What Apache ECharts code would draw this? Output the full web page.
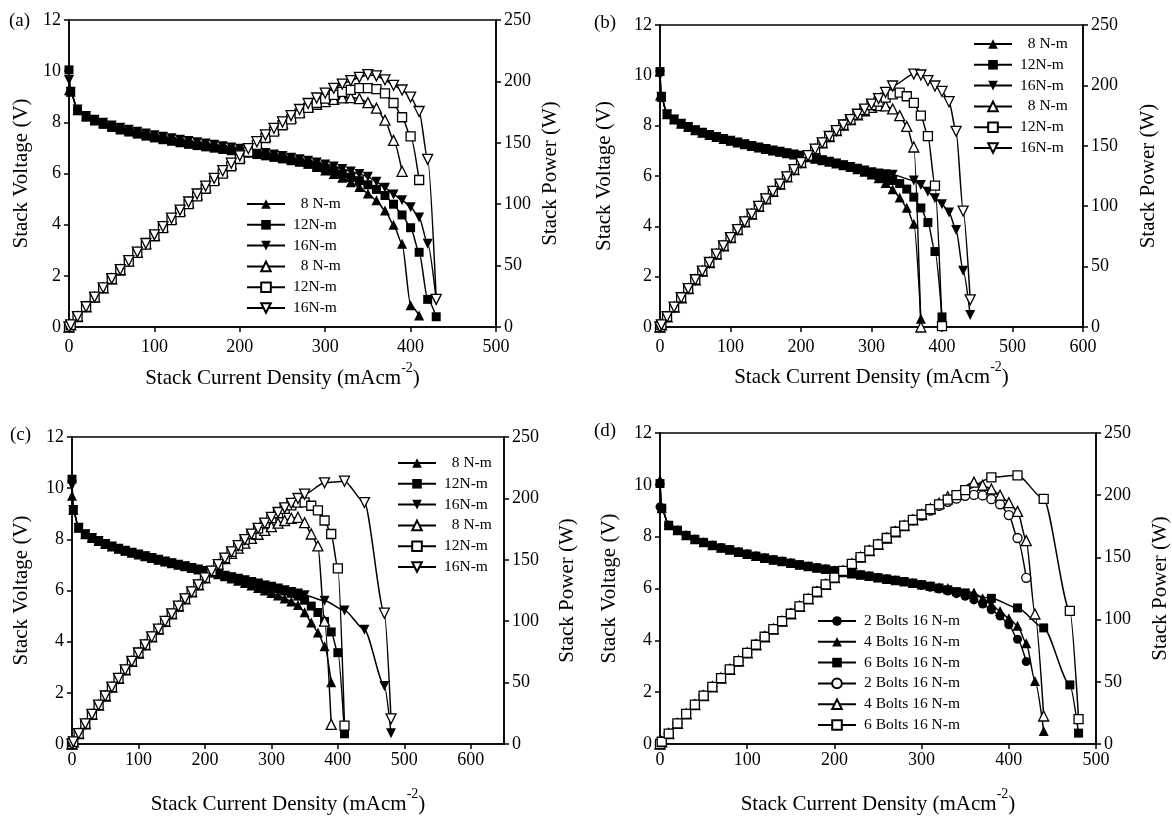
<!DOCTYPE html>
<html><head><meta charset="utf-8">
<script src="https://cdn.jsdelivr.net/npm/echarts@6/dist/echarts.min.js"></script>
<style>html,body{margin:0;padding:0;background:#fff}#c{width:1172px;height:816px}</style>
</head><body><div id="c"></div>
<script>
// ---------- current density (mA/cm2) sample points ----------
const xStd    = [0,2,10,20,30,40,50,60,70,80,90,100,110,120,130,140,150,160,170,180,190,200,210,220,230,240,250,260,270,280,290,300,310,320,330,340,350,360,370,380,390,400,410,420,430,440];
const xGap330 = [0,2,10,20,30,40,50,60,70,80,90,100,110,120,130,140,150,160,170,180,190,200,210,220,230,240,250,260,270,280,290,300,310,320,330,360,370,380,390,400,410,420,430,440];
const xGap350 = [0,2,10,20,30,40,50,60,70,80,90,100,110,120,130,140,150,160,170,180,190,200,210,220,230,240,250,260,270,280,290,300,310,320,330,340,350,380,410,440,470,480];

// ---------- panel (a) ----------
const aV8  = [9.25,9.2,8.5,8.25,8.1,7.97,7.86,7.77,7.69,7.61,7.54,7.47,7.41,7.35,7.29,7.24,7.18,7.13,7.08,7.03,6.98,6.93,6.88,6.82,6.76,6.7,6.63,6.56,6.48,6.38,6.25,6.12,5.98,5.83,5.66,5.47,5.22,4.95,4.55,4.0,3.25,0.85,0.45];
const aP8  = [0,1.8,8.5,16.5,24.3,31.9,39.3,46.6,53.8,60.9,67.9,74.7,81.5,88.2,94.8,101.4,107.7,114.1,120.4,126.5,132.6,138.6,144.5,150,155.5,160.8,165.8,170.6,175,179.2,181.3,183.6,185.4,186.6,186.8,186,182.7,178.2,168.4,152,126.8];
const aV12 = [10.05,9.2,8.45,8.2,8.05,7.92,7.8,7.7,7.62,7.54,7.46,7.39,7.32,7.26,7.2,7.14,7.09,7.04,6.99,6.94,6.89,6.84,6.79,6.74,6.69,6.63,6.57,6.5,6.44,6.37,6.29,6.2,6.1,5.98,5.85,5.72,5.56,5.38,5.14,4.8,4.38,3.88,2.92,1.08,0.4];
const aP12 = [0,1.8,8.5,16.4,24.2,31.7,39,46.2,53.3,60.3,67.1,73.9,80.5,87.1,93.6,100,106.4,112.6,118.8,124.9,130.9,136.8,142.6,148.3,153.9,159.1,164.3,169,173.9,178.4,182.4,186,189.1,191.4,193.1,194.5,194.6,193.7,190.2,182.4,170.8,155.2,119.7];
const aV16 = [9.65,9.2,8.5,8.25,8.1,7.98,7.88,7.79,7.71,7.63,7.56,7.5,7.44,7.38,7.32,7.27,7.22,7.17,7.12,7.07,7.02,6.97,6.92,6.86,6.8,6.74,6.68,6.62,6.56,6.5,6.43,6.35,6.27,6.18,6.08,5.98,5.87,5.68,5.44,5.18,4.95,4.68,4.28,3.25,1.05];
const aP16 = [0,1.8,8.5,16.5,24.3,31.9,39.4,46.7,54,61,68,75,81.8,88.6,95.2,101.8,108.3,114.7,121,127.3,133.4,139.4,145.3,150.9,156.4,161.8,167,172.1,177.1,182,186.5,190.5,194.4,197.8,200.6,203.3,205.5,204.5,201.3,196.8,193,187.2,175.5,136.5,22.5];

// ---------- panel (b) ----------
const bV8  = [9.2,9.15,8.45,8.25,8.08,7.95,7.82,7.72,7.63,7.55,7.47,7.4,7.33,7.26,7.19,7.13,7.07,7.01,6.96,6.9,6.85,6.8,6.75,6.69,6.63,6.57,6.5,6.43,6.36,6.27,6.17,6.06,5.91,5.72,5.47,5.15,4.74,4.1,0.33];
const bP8  = [0,1.8,8.5,16.5,24.2,31.8,39.1,46.3,53.4,60.4,67.2,74,80.6,87.1,93.5,99.8,106,112.2,118.3,124.2,130.2,136,141.8,147.2,152.5,157.7,162.5,167.2,171.7,175.6,179,181.8,183.2,183,180.5,175,166,149,0];
const bV12 = [10.15,9.15,8.45,8.25,8.08,7.95,7.82,7.72,7.63,7.55,7.47,7.4,7.33,7.26,7.19,7.13,7.07,7.01,6.96,6.9,6.85,6.8,6.75,6.69,6.63,6.57,6.5,6.43,6.36,6.28,6.2,6.12,6.02,5.93,5.82,5.7,5.48,5.16,4.73,4.15,3.0,0.4];
const bP12 = [0,1.8,8.5,16.5,24.2,31.8,39.1,46.3,53.4,60.4,67.2,74,80.6,87.1,93.5,99.8,106,112.2,118.3,124.2,130.2,136,141.8,147.2,152.5,157.7,162.5,167.2,171.7,175.8,179.8,183.6,186.6,189.8,192.5,194,191,185.5,175,158,117,0.8];
const bV16 = [10.0,9.15,8.45,8.25,8.08,7.95,7.82,7.72,7.63,7.55,7.47,7.4,7.33,7.26,7.19,7.13,7.07,7.01,6.96,6.9,6.85,6.8,6.75,6.69,6.63,6.57,6.5,6.43,6.36,6.29,6.22,6.15,6.1,6.07,6.05,5.82,5.64,5.37,5.12,4.88,4.55,3.85,2.24,0.48];
const bP16 = [0,1.8,8.5,16.5,24.2,31.8,39.1,46.3,53.4,60.4,67.2,74,80.6,87.1,93.5,99.8,106,112.2,118.3,124.2,130.2,136,141.8,147.2,152.5,157.7,162.5,167.2,171.7,176.1,180.4,184.5,189.1,194.2,199.5,209.4,208.6,204,199.5,195,186.5,162,96,22.5];

// ---------- panel (c) ----------
const cV8  = [9.7,9.15,8.45,8.2,8.05,7.93,7.82,7.72,7.63,7.55,7.48,7.41,7.34,7.27,7.2,7.13,7.07,7.01,6.95,6.88,6.82,6.76,6.7,6.64,6.56,6.47,6.38,6.29,6.2,6.1,6.0,5.9,5.8,5.69,5.57,5.43,5.15,4.75,4.36,3.82,2.41];
const cP8  = [0,1.8,8.5,16.4,24.2,31.7,39.1,46.3,53.4,60.4,67.3,74.1,80.7,87.2,93.6,99.8,106,112.2,118.2,123.8,129.6,135.2,140.7,146,150.9,155.3,159.5,163.5,167.4,170.8,174,177,179.8,182,183.8,184.6,180.2,171,161.3,100,16];
const cV12 = [10.35,9.15,8.45,8.2,8.05,7.93,7.82,7.72,7.63,7.55,7.48,7.41,7.34,7.27,7.2,7.13,7.07,7.01,6.95,6.88,6.82,6.76,6.7,6.64,6.58,6.52,6.46,6.4,6.33,6.27,6.2,6.13,6.06,5.98,5.89,5.78,5.62,5.39,5.14,4.79,4.38,3.57,0.4];
const cP12 = [0,1.8,8.5,16.4,24.2,31.7,39.1,46.3,53.4,60.4,67.3,74.1,80.7,87.2,93.6,99.8,106,112.2,118.2,123.8,129.6,135.2,140.7,146,151.3,156.5,161.5,166.4,170.9,175.6,179.8,183.9,187.9,191.4,194.4,196.5,196.7,194,190.2,182,171,143,15];
const cV16 = [10.1,9.15,8.45,8.2,8.05,7.93,7.82,7.72,7.63,7.55,7.48,7.41,7.34,7.27,7.2,7.13,7.07,7.01,6.95,6.88,6.82,6.76,6.7,6.64,6.58,6.52,6.46,6.4,6.33,6.27,6.2,6.15,6.08,6.01,5.94,5.88,5.81,5.6,5.22,4.47,2.27,0.42];
const cP16 = [0,1.8,8.5,16.4,24.2,31.7,39.1,46.3,53.4,60.4,67.3,74.1,80.7,87.2,93.6,99.8,106,112.2,118.2,123.8,129.6,135.2,140.7,146,151.3,156.5,161.5,166.4,170.9,175.6,179.8,184.5,188.5,192.3,196,199.9,203.4,212.7,214,196.6,106.5,20.5];

// ---------- panel (d) ----------
const dV2 = [9.15,9.1,8.44,8.25,8.05,7.9,7.78,7.67,7.57,7.5,7.41,7.33,7.25,7.18,7.11,7.05,6.98,6.92,6.86,6.8,6.75,6.69,6.63,6.58,6.53,6.48,6.42,6.37,6.32,6.27,6.2,6.12,6.05,5.98,5.9,5.8,5.7,5.56,5.4,5.18,4.94,4.6,4.04,3.18];
const dP2 = [0,1.8,8.4,16.5,24.2,31.6,38.9,46,53,60,66.7,73.3,79.8,86.2,92.4,98.7,104.7,110.7,116.6,122.4,128.3,133.8,139.2,144.8,150.2,155.5,160.5,165.6,170.6,175.6,179.8,183.6,187.6,191.4,194.7,197.2,199.5,200.2,199.8,196.8,192.7,184,165.6,133.6];
const dV4 = [10.2,9.1,8.44,8.25,8.05,7.9,7.78,7.67,7.57,7.5,7.41,7.33,7.25,7.18,7.11,7.05,6.98,6.92,6.86,6.8,6.75,6.69,6.63,6.58,6.53,6.48,6.42,6.37,6.32,6.27,6.21,6.15,6.1,6.05,6.02,5.85,5.62,5.39,5.13,4.85,4.56,3.89,2.43,0.5];
const dP4 = [0,1.8,8.4,16.5,24.2,31.6,38.9,46,53,60,66.7,73.3,79.8,86.2,92.4,98.7,104.7,110.7,116.6,122.4,128.3,133.8,139.2,144.8,150.2,155.5,160.5,165.6,170.6,175.6,180.1,184.5,189.1,193.6,198.7,210.5,208,205,200,194,187,163.5,104.5,22.5];
const dV6 = [10.05,9.1,8.44,8.25,8.05,7.9,7.78,7.67,7.57,7.5,7.41,7.33,7.25,7.18,7.11,7.05,6.98,6.92,6.86,6.8,6.75,6.69,6.63,6.58,6.53,6.48,6.42,6.37,6.32,6.27,6.21,6.15,6.09,6.02,5.95,5.88,5.83,5.62,5.25,4.48,2.28,0.42];
const dP6 = [0,1.8,8.4,16.5,24.2,31.6,38.9,46,53,60,66.7,73.3,79.8,86.2,92.4,98.7,104.7,110.7,116.6,122.4,128.3,133.8,139.2,144.8,150.2,155.5,160.5,165.6,170.6,175.6,180.1,184.5,188.8,192.6,196.4,200,204,214.3,216,197,107,20];

// ---------- labels ----------
const panelTags = ['(a)','(b)','(c)','(d)'];
const xMax = [500,600,650,500];
const torqueLabels = ['  8 N-m','12N-m','16N-m'];
const boltLabels = ['2 Bolts 16 N-m','4 Bolts 16 N-m','6 Bolts 16 N-m'];
const xTitle = '{m|Stack Current Density (mAcm}{s|-2}{m|)}';
const yLeftTitle = 'Stack Voltage (V)';
const yRightTitle = 'Stack Power (W)';

// ---------- series specs ----------
const specs = [
  [{x:xStd,y:aV8,sym:'triangle',lab:0},{x:xStd,y:aV12,sym:'rect',lab:1},{x:xStd,y:aV16,sym:'triangle',down:1,lab:2},
   {x:xStd,y:aP8,sym:'triangle',open:1,pw:1,lab:0},{x:xStd,y:aP12,sym:'rect',open:1,pw:1,lab:1},{x:xStd,y:aP16,sym:'triangle',down:1,open:1,pw:1,lab:2}],
  [{x:xStd,y:bV8,sym:'triangle',lab:0},{x:xStd,y:bV12,sym:'rect',lab:1},{x:xGap330,y:bV16,sym:'triangle',down:1,lab:2},
   {x:xStd,y:bP8,sym:'triangle',open:1,pw:1,lab:0},{x:xStd,y:bP12,sym:'rect',open:1,pw:1,lab:1},{x:xGap330,y:bP16,sym:'triangle',down:1,open:1,pw:1,lab:2}],
  [{x:xStd,y:cV8,sym:'triangle',lab:0},{x:xStd,y:cV12,sym:'rect',lab:1},{x:xGap350,y:cV16,sym:'triangle',down:1,lab:2},
   {x:xStd,y:cP8,sym:'triangle',open:1,pw:1,lab:0},{x:xStd,y:cP12,sym:'rect',open:1,pw:1,lab:1},{x:xGap350,y:cP16,sym:'triangle',down:1,open:1,pw:1,lab:2}],
  [{x:xStd,y:dV2,sym:'circle',lab:0},{x:xGap330,y:dV4,sym:'triangle',lab:1},{x:xGap350,y:dV6,sym:'rect',lab:2},
   {x:xStd,y:dP2,sym:'circle',open:1,pw:1,lab:0},{x:xGap330,y:dP4,sym:'triangle',open:1,pw:1,lab:1},{x:xGap350,y:dP6,sym:'rect',open:1,pw:1,lab:2}]
];

// ---------- layout ----------
const FONT = 'Liberation Serif';
const grids = [
  {left:69, top:20, width:427, height:307},
  {left:660, top:25, width:423, height:302},
  {left:72, top:437, width:432, height:310},
  {left:660, top:433, width:439, height:315}
];
const xNameGap = [34,33,43,43];
const xLabMargin = [11,11,7,7];
const yLGap = [37,45,40,40];
const yRGap = [44,55,53,54];
const legendPos = [
  {left:241, top:191}, {left:968, top:31}, {left:392, top:450}, {left:812, top:608}
];
const tagPos = [[20,23],[605,25],[21,437],[605,433]];

const nameMap = {};
const series = [];
const legends = [];
specs.forEach((panel, gi) => {
  const names = [];
  panel.forEach((s, k) => {
    const nm = 'p' + gi + 's' + k;
    nameMap[nm] = gi === 3 ? boltLabels[s.lab] : torqueLabels[s.lab];
    names.push(nm);
    series.push({
      type: 'line', name: nm, xAxisIndex: gi, yAxisIndex: gi * 2 + (s.pw ? 1 : 0),
      data: s.y.map((v, i) => [s.x[i], v]),
      symbol: s.sym, symbolSize: s.sym === 'triangle' ? 10 : 9,
      symbolRotate: s.down ? 180 : 0, showSymbol: true,
      smooth: 0.25, smoothMonotone: 'x',
      lineStyle: {color: '#000', width: 1.5},
      itemStyle: {color: s.open ? '#fff' : '#000', borderColor: '#000', borderWidth: s.open ? 1.3 : 0},
      emphasis: {disabled: true}, z: s.open ? 3 : 2, animation: false
    });
  });
  legends.push({
    orient: 'vertical', left: legendPos[gi].left, top: legendPos[gi].top,
    itemWidth: 38, itemHeight: 12, itemGap: 4.8, selectedMode: false,
    data: names, formatter: n => nameMap[n],
    textStyle: {fontFamily: FONT, fontSize: 15.5, color: '#000', padding: [0, 0, 0, 3]}
  });
});

const axisLineStyle = {show: true, lineStyle: {color: '#000', width: 1.5}};
const tickStyle = {show: true, inside: false, length: 5, lineStyle: {color: '#000', width: 1.5}};
const labStyle = {color: '#000', fontFamily: FONT, fontSize: 18};

const xAxes = grids.map((g, gi) => ({
  type: 'value', gridIndex: gi, min: 0, max: xMax[gi], interval: 100,
  axisLine: axisLineStyle, axisTick: tickStyle, splitLine: {show: false},
  axisLabel: Object.assign({margin: xLabMargin[gi], showMaxLabel: xMax[gi] % 100 === 0}, labStyle),
  name: xTitle, nameLocation: 'middle', nameGap: xNameGap[gi],
  nameTextStyle: {color: '#000', fontFamily: FONT, fontSize: 21,
    rich: {m: {fontFamily: FONT, fontSize: 21, color: '#000', lineHeight: 28, verticalAlign: 'bottom'},
           s: {fontFamily: FONT, fontSize: 14, color: '#000', lineHeight: 28, verticalAlign: 'top'}}}
}));
const yAxes = [];
grids.forEach((g, gi) => {
  yAxes.push({
    type: 'value', gridIndex: gi, position: 'left', min: 0, max: 12, interval: 2,
    axisLine: axisLineStyle, axisTick: tickStyle, splitLine: {show: false},
    axisLabel: Object.assign({margin: 8}, labStyle),
    name: yLeftTitle, nameLocation: 'middle', nameRotate: 90, nameGap: yLGap[gi],
    nameTextStyle: {color: '#000', fontFamily: FONT, fontSize: 21}
  });
  yAxes.push({
    type: 'value', gridIndex: gi, position: 'right', min: 0, max: 250, interval: 50,
    axisLine: axisLineStyle, axisTick: tickStyle, splitLine: {show: false},
    axisLabel: Object.assign({margin: 8}, labStyle),
    name: yRightTitle, nameLocation: 'middle', nameRotate: 90, nameGap: yRGap[gi],
    nameTextStyle: {color: '#000', fontFamily: FONT, fontSize: 21}
  });
});

const chart = echarts.init(document.getElementById('c'), null, {renderer: 'canvas'});
chart.setOption({
  backgroundColor: '#fff',
  animation: false,
  grid: grids.map(g => Object.assign({show: true, borderColor: '#000', borderWidth: 1.5, backgroundColor: 'transparent'}, g)),
  xAxis: xAxes,
  yAxis: yAxes,
  legend: legends,
  graphic: panelTags.map((t, i) => ({
    type: 'text', left: tagPos[i][0] - 11, top: tagPos[i][1] - 11,
    style: {text: t, font: '19px "Liberation Serif"', fill: '#000'}
  })),
  series: series
});
</script>
</body></html>
